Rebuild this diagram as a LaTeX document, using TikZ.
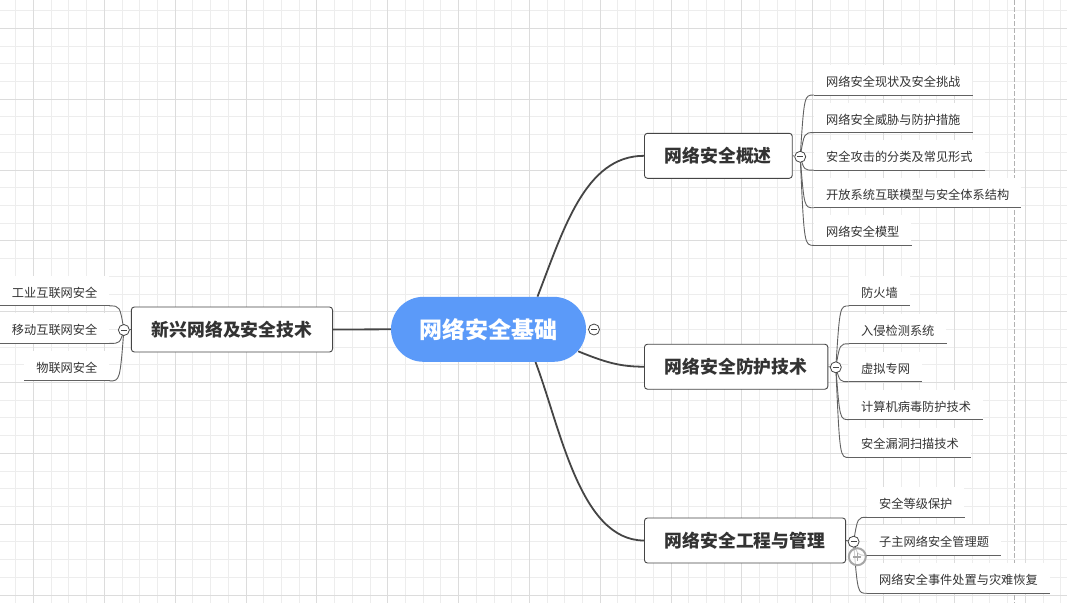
\documentclass[tikz,border=0pt]{standalone}
\usepackage{fontspec}
\newfontfamily\cjk{Noto Sans CJK SC}
\usetikzlibrary{calc}
\pgfdeclarelayer{grid}
\pgfdeclarelayer{edges}
\pgfsetlayers{grid,edges,main}
\definecolor{hubblue}{HTML}{5B9AF9}
\definecolor{ink}{HTML}{333333}
\definecolor{edgegray}{HTML}{454545}
\definecolor{minorgrid}{HTML}{EDEDED}
\definecolor{majorgrid}{HTML}{DCDCDC}
\tikzset{
  hub/.style={fill=hubblue, rounded corners=32.5pt, minimum width=195pt, minimum height=65pt,
    text=white, font=\cjk\bfseries\fontsize{23}{24}\selectfont},
  topic/.style={draw=edgegray, line width=0.9pt, fill=white, rounded corners=3pt,
    minimum height=45pt, inner xsep=20.5pt, text=ink, font=\cjk\bfseries\fontsize{17.8}{19}\selectfont},
  leaf/.style={fill=white, inner xsep=12pt, inner ysep=5.4pt, text height=16pt, text depth=3pt,
    text=ink, font=\cjk\fontsize{12.2}{13}\selectfont},
  fold/.style={circle, draw=edgegray, fill=white, line width=0.8pt, minimum size=11pt, inner sep=0pt,
    path picture={\draw[edgegray, line width=0.8pt]
      ([xshift=-3pt]path picture bounding box.center) -- ([xshift=3pt]path picture bounding box.center);}},
  hover/.style={circle, draw=gray!70, line width=2pt, fill=white, fill opacity=0.7, minimum size=17pt, inner sep=0pt,
    path picture={\draw[gray!70, line width=1.6pt]
      ([xshift=-4pt]path picture bounding box.center) -- ([xshift=4pt]path picture bounding box.center)
      ([yshift=-4pt]path picture bounding box.center) -- ([yshift=4pt]path picture bounding box.center);}},
  main edge/.style={edgegray, line width=1.8pt},
  leaf edge/.style={edgegray!85, line width=0.9pt},
  pagebreak/.style={gray!60, line width=0.8pt, dash pattern=on 5pt off 2pt},
}

\begin{document}
\begin{tikzpicture}[x=1pt, y=-1pt]
    \useasboundingbox (0,0) rectangle (1067,603);

    % Raster
    \begin{pgfonlayer}{grid}
    \fill[white] (0,0) rectangle (1067,603);
    \foreach \k in {-1,...,58} \draw[minorgrid, line width=0.9pt] ({33.5+17.71*\k},0) -- ++(0,603);
    \foreach \k in {-1,...,32} \draw[minorgrid, line width=0.9pt] (0,{28.3+17.71*\k}) -- ++(1067,0);
    \foreach \k in {0,...,14} \draw[majorgrid, line width=0.9pt] ({33.5+70.84*\k},0) -- ++(0,603);
    \foreach \k in {0,...,8} \draw[majorgrid, line width=0.9pt] (0,{28.3+70.84*\k}) -- ++(1067,0);
    \draw[pagebreak] (1014.3,0) -- (1014.3,603);
    \end{pgfonlayer}

    % Zentrum und Hauptthemen
    \node[hub] (hub) at (488.5,329.3) {网络安全基础};
    \node[fold] (fhub) at (594,329.5) {};
    \node[topic, anchor=east] (emerge) at (333,329.5) {新兴网络及安全技术};
    \node[topic, anchor=west] (intro) at (644,155.8) {网络安全概述};
    \node[topic, anchor=west] (defend) at (644,366.7) {网络安全防护技术};
    \node[topic, anchor=west] (manage) at (644,540.5) {网络安全工程与管理};

    % Einklapp-Knoepfe
    \node[fold] (femerge) at ($(emerge.west)+(-7,0.5)$) {};
    \node[fold] (fintro) at ($(intro.east)+(7.5,1)$) {};
    \node[fold] (fdefend) at ($(defend.east)+(7.5,0.6)$) {};
    \node[fold] (fmanage) at ($(manage.east)+(7.5,1.2)$) {};

    % Unterthemen
    \foreach \t [count=\i] in {网络安全现状及安全挑战, 网络安全威胁与防护措施, 安全攻击的分类及常见形式,
        开放系统互联模型与安全体系结构, 网络安全模型}
        \node[leaf, anchor=south west] (intro\i) at (814,{57.4+37.6*\i}) {\t};
    \foreach \t [count=\i] in {防火墙, 入侵检测系统, 虚拟专网, 计算机病毒防护技术, 安全漏洞扫描技术}
        \node[leaf, anchor=south west] (defend\i) at (849,{268+37.9*\i}) {\t};
    \foreach \t [count=\i] in {安全等级保护, 子主网络安全管理题, 网络安全事件处置与灾难恢复}
        \node[leaf, anchor=south west] (manage\i) at (867,{479.3+38*\i}) {\t};
    \foreach \t [count=\i] in {工业互联网安全, 移动互联网安全, 物联网安全}
        \node[leaf, anchor=south east] (emerge\i) at (109.5,{268.4+37.5*\i}) {\t};

    % Verbindungen
    \begin{pgfonlayer}{edges}
    \draw[main edge] (emerge.east) -- (hub.west);
    \draw[main edge] ($(hub.north)+(49,0)$) .. controls +(26,-67) and +(-59,0) .. (intro.west);
    \draw[main edge] ($(hub.east)+(-8,22)$) .. controls +(27,11) and +(-24,0) .. (defend.west);
    \draw[main edge] ($(hub.south)+(47,0)$) .. controls +(25,66) and +(-64,0) .. (manage.west);

    \draw[leaf edge] (intro.east) -- (fintro);
    \draw[leaf edge] (defend.east) -- (fdefend);
    \draw[leaf edge] (manage.east) -- (fmanage);
    \draw[leaf edge] (emerge.west) -- (femerge);
    \foreach \i in {1,...,5} {
        \draw[leaf edge] (fintro.center) .. controls ($(fintro.center |- intro\i.south west)+(4,0)$) .. (intro\i.south west);
        \draw[leaf edge] (fdefend.center) .. controls ($(fdefend.center |- defend\i.south west)+(4,0)$) .. (defend\i.south west);
    }
    \foreach \i in {1,2,3} {
        \draw[leaf edge] (fmanage.center) .. controls ($(fmanage.center |- manage\i.south west)+(4,0)$) .. (manage\i.south west);
        \draw[leaf edge] (femerge.center) .. controls ($(femerge.center |- emerge\i.south east)+(-4,0)$) .. (emerge\i.south east);
    }
    \end{pgfonlayer}

    % Unterstriche
    \foreach \i in {1,...,5} {
        \draw[leaf edge] (intro\i.south west) -- (intro\i.south east);
        \draw[leaf edge] (defend\i.south west) -- (defend\i.south east);
    }
    \foreach \i in {1,2,3} {
        \draw[leaf edge] (manage\i.south west) -- (manage\i.south east);
        \draw[leaf edge] (emerge\i.south west) -- (emerge\i.south east);
    }

    \node[hover] (plus) at (857.3,556.7) {};
\end{tikzpicture}
\end{document}
